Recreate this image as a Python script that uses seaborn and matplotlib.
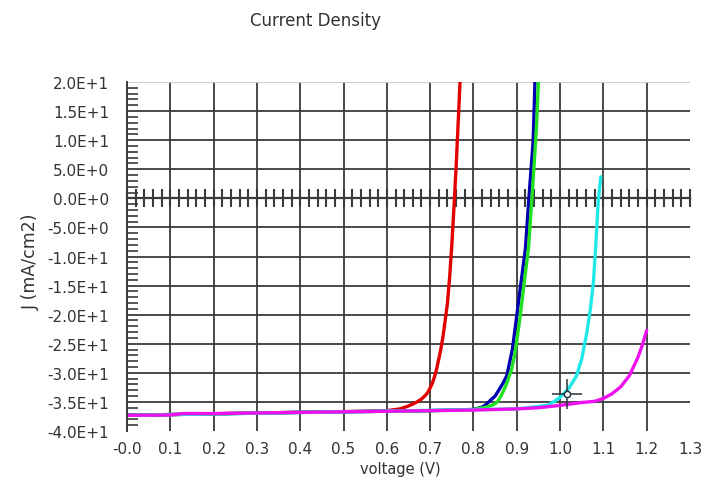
import numpy as np
import pandas as pd
import matplotlib
matplotlib.use("Agg")
import matplotlib.pyplot as plt
import seaborn as sns
from matplotlib.ticker import MultipleLocator

# ---------------- data ----------------
title = "Current Density"
x_label = "voltage (V)"
y_label = "J (mA/cm2)"

x_ticks = [0.0, 0.1, 0.2, 0.3, 0.4, 0.5, 0.6, 0.7, 0.8, 0.9, 1.0, 1.1, 1.2, 1.3]
x_tick_labels = ["-0.0", "0.1", "0.2", "0.3", "0.4", "0.5", "0.6", "0.7",
                 "0.8", "0.9", "1.0", "1.1", "1.2", "1.3"]
y_ticks = [20, 15, 10, 5, 0, -5, -10, -15, -20, -25, -30, -35, -40]
y_tick_labels = ["2.0E+1", "1.5E+1", "1.0E+1", "5.0E+0", "0.0E+0", "-5.0E+0",
                 "-1.0E+1", "-1.5E+1", "-2.0E+1", "-2.5E+1", "-3.0E+1",
                 "-3.5E+1", "-4.0E+1"]

red_v = [0.0, 0.3, 0.55, 0.6, 0.63, 0.65, 0.67, 0.68, 0.69, 0.695, 0.70,
         0.705, 0.71, 0.715, 0.72, 0.725, 0.73, 0.74, 0.745, 0.75, 0.755,
         0.76, 0.765, 0.769]
red_j = [-37.3, -36.9, -36.6, -36.5, -36.2, -35.7, -35.0, -34.5, -33.8, -33.3,
         -32.6, -31.8, -30.7, -29.3, -27.6, -25.8, -23.6, -18.0, -13.5, -8.0,
         -1.5, 5.5, 13.5, 20.0]

blue_v = [0.0, 0.4, 0.7, 0.8, 0.82, 0.83, 0.838, 0.85, 0.86, 0.868, 0.877,
          0.89, 0.90, 0.91, 0.92, 0.928, 0.933, 0.938, 0.942]
blue_j = [-37.3, -36.8, -36.5, -36.3, -35.9, -35.4, -34.8, -34.0, -32.8,
          -31.8, -30.5, -25.9, -20.2, -14.4, -8.6, 0.0, 5.0, 10.0, 20.0]

green_v = [0.0, 0.4, 0.7, 0.8, 0.83, 0.845, 0.854, 0.862, 0.87, 0.878, 0.888,
           0.895, 0.90, 0.908, 0.918, 0.927, 0.935, 0.942, 0.946, 0.95]
green_j = [-37.3, -36.8, -36.5, -36.3, -35.9, -35.5, -35.1, -34.2, -33.0,
           -31.6, -29.4, -27.0, -24.5, -20.2, -14.0, -8.6, 0.0, 8.0, 13.0,
           20.0]

cyan_v = [0.0, 0.5, 0.9, 0.97, 0.985, 1.0, 1.02, 1.038, 1.05, 1.062, 1.07,
          1.077, 1.082, 1.088, 1.094]
cyan_j = [-37.3, -36.7, -36.2, -35.6, -35.0, -34.2, -32.7, -30.5, -27.6,
          -23.0, -19.0, -14.4, -8.6, -0.6, 3.7]

magenta_v = [0.0, 0.1, 0.13, 0.2, 0.3, 0.4, 0.5, 0.6, 0.7, 0.8, 0.9, 0.95,
             1.0, 1.05, 1.08, 1.1, 1.12, 1.14, 1.16, 1.18, 1.19, 1.2]
magenta_j = [-37.3, -37.25, -37.0, -37.0, -36.9, -36.8, -36.7, -36.6, -36.5,
             -36.4, -36.2, -36.0, -35.6, -35.1, -34.9, -34.4, -33.6, -32.4,
             -30.5, -27.3, -25.2, -22.7]

cursor_v = [1.015]
cursor_j = [-33.7]

names = ["red", "blue", "green", "cyan", "magenta"]
colors = {"red": "#e00000", "blue": "#0000b0", "green": "#20e020",
          "cyan": "#20e8e8", "magenta": "#ee10ee"}
series = {"red": (red_v, red_j), "blue": (blue_v, blue_j),
          "green": (green_v, green_j), "cyan": (cyan_v, cyan_j),
          "magenta": (magenta_v, magenta_j)}

df = pd.concat([pd.DataFrame({"V": v, "J": j, "cell": n})
                for n, (v, j) in series.items()], ignore_index=True)

# ---------------- figure ----------------
sns.set_style("white")
plt.rcParams["font.family"] = ["DejaVu Sans"]
text_color = "#333333"
line_color = "#3a3a3a"

fig = plt.figure(figsize=(7.04, 4.85), dpi=100)
L, R, T, B = 127, 690, 83, 432
ax = fig.add_axes([L / 704, 1 - B / 485, (R - L) / 704, (B - T) / 485])

sns.lineplot(data=df, x="V", y="J", hue="cell", hue_order=names,
             palette=colors, sort=False, estimator=None, lw=2.4,
             legend=False, ax=ax, zorder=5)

ax.plot(cursor_v, cursor_j, marker="+", ms=22, mew=1.1, color="#2a3440",
        ls="none", zorder=6)
ax.plot(cursor_v, cursor_j, marker="o", ms=4.5, mew=1.1, mfc="white",
        mec="#2a3440", ls="none", zorder=7)

ax.set_xlim(0, 1.3)
ax.set_ylim(-40, 20)
ax.set_xticks(x_ticks, labels=x_tick_labels)
ax.set_yticks(y_ticks, labels=y_tick_labels)
ax.yaxis.set_minor_locator(MultipleLocator(1))

ax.grid(True, which="major", color=line_color, lw=1.3)
for t in ax.yaxis.get_major_ticks():
    if np.isclose(t.get_loc(), -40):
        t.gridline.set_visible(False)
    if np.isclose(t.get_loc(), 20):
        t.gridline.set_color("#c8c8c8")
for t in ax.xaxis.get_major_ticks():
    if np.isclose(t.get_loc(), 0) or np.isclose(t.get_loc(), 1.3):
        t.gridline.set_visible(False)

for s in ["top", "right", "bottom"]:
    ax.spines[s].set_visible(False)
ax.spines["left"].set_color(line_color)
ax.spines["left"].set_linewidth(1.4)
ax.spines["left"].set_zorder(8)

ax.tick_params(axis="y", which="major", direction="out", length=5, width=1.2,
               color=line_color, pad=8, labelsize=11, labelcolor=text_color)
ax.tick_params(axis="y", which="minor", direction="in", length=8, width=1.2,
               color=line_color, left=True)
ax.tick_params(axis="x", which="major", direction="out", length=4, width=1.2,
               color="#777777", pad=3, labelsize=11, labelcolor=text_color)

# zero axis with crossing ticks
sec = ax.secondary_xaxis(0, transform=ax.transData)
sec.set_xticks(x_ticks)
sec.xaxis.set_minor_locator(MultipleLocator(0.02))
sec.tick_params(which="both", direction="inout", length=13, width=1.5,
                color=line_color, labelbottom=False, labeltop=False)
for s in sec.spines.values():
    s.set_color(line_color)
    s.set_linewidth(1.6)

ax.set_xlabel(x_label, fontsize=10.5, color=text_color)
ax.xaxis.set_label_coords((400 - L) / (R - L), (B - 462) / (B - T))
ax.set_ylabel(y_label, fontsize=12.5, color=text_color)
ax.yaxis.set_label_coords((31 - L) / (R - L), (B - 262) / (B - T))
ax.yaxis.label.set_verticalalignment("center")

fig.text(315 / 704, 1 - 21 / 485, title, ha="center", va="center",
         fontsize=12, color=text_color)

fig.savefig("out.png", dpi=100)
